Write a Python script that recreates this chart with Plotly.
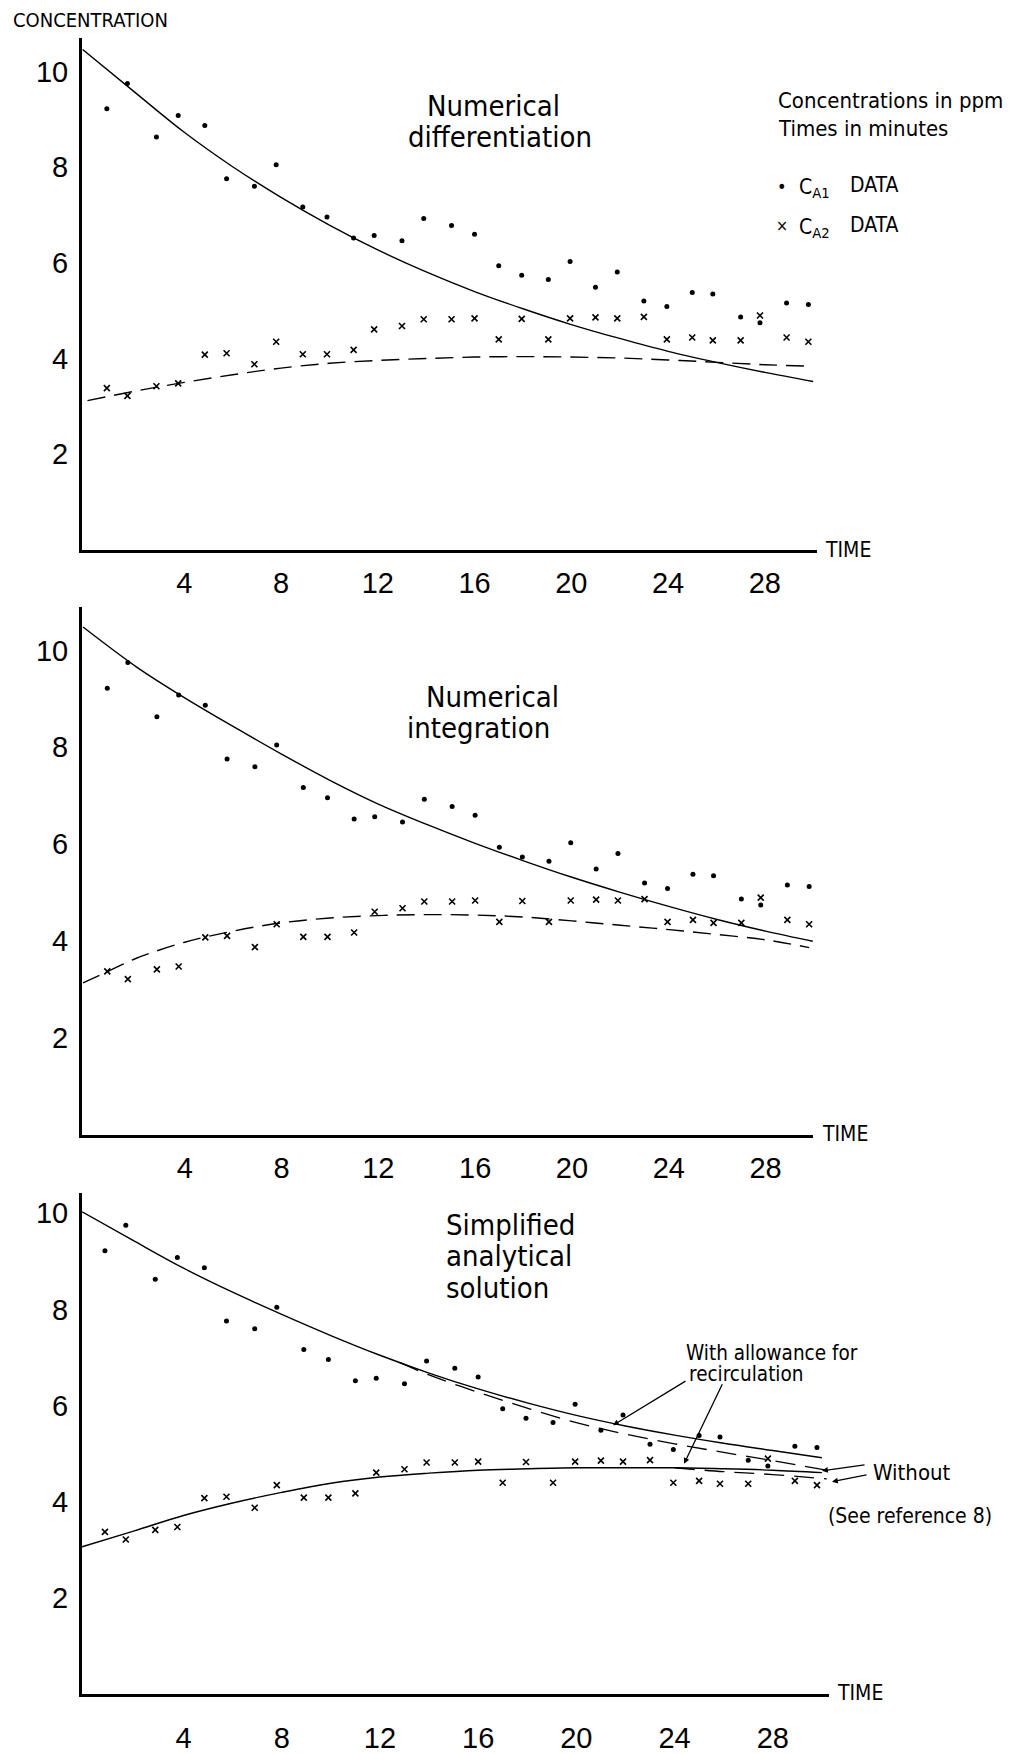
import plotly.graph_objects as go

W, H = 1018, 1754

# ---------------- data ----------------
time_min = [0.8, 1.65, 2.85, 3.75, 4.85, 5.75, 6.9, 7.8, 8.9, 9.9, 11.0, 11.85, 13.0, 13.9, 15.05,
            16.0, 17.0, 17.95, 19.05, 19.95, 21.0, 21.9, 23.0, 23.95, 25.0, 25.85, 27.0, 27.8, 28.9, 29.8]
c_a1 = [9.22, 9.75, 8.63, 9.08, 8.87, 7.76, 7.60, 8.05, 7.17, 6.96, 6.52, 6.57, 6.46, 6.93, 6.78,
        6.60, 5.94, 5.74, 5.65, 6.03, 5.49, 5.81, 5.20, 5.09, 5.38, 5.35, 4.87, 4.75, 5.16, 5.13]
c_a2 = [3.38, 3.22, 3.42, 3.48, 4.08, 4.11, 3.88, 4.35, 4.09, 4.09, 4.18, 4.61, 4.68, 4.82, 4.82,
        4.84, 4.40, 4.83, 4.40, 4.84, 4.86, 4.84, 4.87, 4.40, 4.44, 4.38, 4.38, 4.90, 4.44, 4.35]

# Panel 1: numerical differentiation fits
p1_a1_t = [-0.2, 2, 4, 6, 8, 10, 12, 14, 16, 18, 20, 22, 24, 26, 28, 30]
p1_a1_fit = [10.46, 9.55, 8.73, 8.01, 7.37, 6.79, 6.27, 5.81, 5.40, 5.04, 4.71, 4.42, 4.15, 3.92, 3.71, 3.52]
p1_a2_t = [0, 2, 4, 6, 8, 10, 12, 14, 16, 18, 20, 22, 24, 26, 28, 29.8]
p1_a2_fit = [3.12, 3.32, 3.50, 3.66, 3.80, 3.90, 3.96, 4.00, 4.03, 4.04, 4.03, 4.01, 3.97, 3.92, 3.87, 3.84]

# Panel 2: numerical integration fits
p2_a1_t = [-0.2, 2, 4, 6, 8, 10, 12, 14, 16, 18, 20, 22, 24, 26, 28, 29.95]
p2_a1_fit = [10.48, 9.66, 9.02, 8.43, 7.86, 7.32, 6.83, 6.41, 6.02, 5.66, 5.32, 5.01, 4.72, 4.45, 4.21, 4.00]
p2_a2_t = [-0.2, 1, 2, 4, 6, 8, 10, 12, 14, 16, 18, 20, 22, 24, 26, 28, 29.8]
p2_a2_fit = [3.14, 3.42, 3.65, 3.98, 4.21, 4.38, 4.48, 4.53, 4.55, 4.54, 4.50, 4.42, 4.33, 4.24, 4.14, 4.03, 3.87]

# Panel 3: simplified analytical solution
p3_t = [-0.13, 2, 4, 6, 8, 10, 12, 14, 16, 18, 20, 22, 24, 26, 28, 30]
p3_a1_with = [10.03, 9.42, 8.86, 8.36, 7.90, 7.46, 7.05, 6.68, 6.35, 6.06, 5.80, 5.58, 5.39, 5.22, 5.07, 4.92]
p3_a2_with = [3.07, 3.40, 3.72, 3.98, 4.20, 4.39, 4.52, 4.60, 4.66, 4.69, 4.71, 4.71, 4.71, 4.69, 4.66, 4.61]
p3_a1_wo_t = [12.8, 14, 16, 18, 20, 22, 24, 26, 28, 30.2]
p3_a1_without = [6.90, 6.64, 6.28, 5.95, 5.65, 5.41, 5.21, 5.03, 4.86, 4.66]
p3_a2_wo_t = [24, 26, 28, 30.2]
p3_a2_without = [4.71, 4.63, 4.57, 4.48]

x_ticks = [4, 8, 12, 16, 20, 24, 28]
y_ticks = [2, 4, 6, 8, 10]

# ---------------- layout helpers ----------------
def fx(px):
    return px / W

def fy(py):
    return 1 - py / H

NUM = "Liberation Sans, Arial, sans-serif"
COND = "DejaVu Sans Condensed, DejaVu Sans, sans-serif"
BLACK = "black"

fig = go.Figure()

dot_marker = dict(symbol="circle", size=5, color=BLACK)
x_marker = dict(symbol="x-thin", size=6, color=BLACK, line=dict(width=1.6, color=BLACK))
solid = dict(color=BLACK, width=1.4, shape="spline")
dashed = dict(color=BLACK, width=1.4, shape="spline", dash="18px,9px")
dashed3 = dict(color=BLACK, width=1.3, shape="spline", dash="20px,10px")

panels = [
    ("x", "y", [(p1_a1_t, p1_a1_fit, solid), (p1_a2_t, p1_a2_fit, dashed)]),
    ("x2", "y2", [(p2_a1_t, p2_a1_fit, solid), (p2_a2_t, p2_a2_fit, dashed)]),
    ("x3", "y3", [(p3_t, p3_a1_with, solid), (p3_t, p3_a2_with, solid),
                  (p3_a1_wo_t, p3_a1_without, dashed3), (p3_a2_wo_t, p3_a2_without, dashed3)]),
]
for xa, ya, curves in panels:
    for tt, vv, st in curves:
        fig.add_trace(go.Scatter(x=tt, y=vv, mode="lines", line=st, xaxis=xa, yaxis=ya,
                                 showlegend=False, hoverinfo="skip"))
    fig.add_trace(go.Scatter(x=time_min, y=c_a1, mode="markers", marker=dot_marker,
                             xaxis=xa, yaxis=ya, showlegend=False))
    fig.add_trace(go.Scatter(x=time_min, y=c_a2, mode="markers", marker=x_marker,
                             xaxis=xa, yaxis=ya, showlegend=False))

# axes geometry (pixels): x-domain left/right, y-axis bottom/top, ranges
geo = [
    (82, 817, 555.5, 38, [-0.227, 30.157], [0, 10.71]),
    (82, 813, 1147, 613, [-0.244, 29.96], [0, 10.9]),
    (82, 829, 1712, 1205, [-0.134, 30.29], [0, 10.43]),
]

def xaxis_def(xl, xr, rng, anchor, standoff):
    return dict(domain=[fx(xl), fx(xr)], range=rng, anchor=anchor, showline=True, linewidth=3,
                linecolor=BLACK, showgrid=False, zeroline=False, ticks="", tickvals=x_ticks,
                tickfont=dict(family=NUM, size=29, color=BLACK), ticklabelstandoff=standoff)

def yaxis_def(yb, yt, rng, anchor):
    return dict(domain=[fy(yb), fy(yt)], range=rng, anchor=anchor, showline=True, linewidth=3,
                linecolor=BLACK, showgrid=False, zeroline=False, ticks="", tickvals=y_ticks,
                tickfont=dict(family=NUM, size=29, color=BLACK), ticklabelstandoff=5)

layout_axes = {}
names = [("xaxis", "yaxis", "x", "y"), ("xaxis2", "yaxis2", "x2", "y2"), ("xaxis3", "yaxis3", "x3", "y3")]
standoffs = [5, 5, 16]
for (xn, yn, xid, yid), (xl, xr, yb, yt, xr_, yr_), so in zip(names, geo, standoffs):
    layout_axes[xn] = xaxis_def(xl, xr, xr_, yid, so)
    layout_axes[yn] = yaxis_def(yb, yt, yr_, xid)

annotations = []

def text(px, py, s, size, family=COND, xanchor="left", yanchor="middle"):
    annotations.append(dict(x=fx(px), y=fy(py), xref="paper", yref="paper", text=s,
                            showarrow=False, xanchor=xanchor, yanchor=yanchor,
                            font=dict(family=family, size=size, color=BLACK)))

def arrow(hx, hy, tx, ty):
    annotations.append(dict(x=fx(hx), y=fy(hy), xref="paper", yref="paper", text="",
                            showarrow=True, ax=tx - hx, ay=ty - hy, axref="pixel", ayref="pixel",
                            arrowhead=2, arrowsize=0.9, arrowwidth=1.3, arrowcolor=BLACK))

# axis titles
text(11, 20, "CONCENTRATION", 20)
text(823, 556, "TIME", 21)
text(820, 1146, "TIME", 21)
text(835, 1711, "TIME", 21)

# panel titles
text(493, 107, "Numerical", 29, xanchor="center")
text(500, 138, "differentiation", 29, xanchor="center")
text(492, 704, "Numerical", 29, xanchor="center")
text(478, 736, "integration", 29, xanchor="center")
text(444, 1238, "Simplified", 29)
text(444, 1269, "analytical", 29)
text(444, 1301, "solution", 29)

# key
text(776, 102, "Concentrations in ppm", 22)
text(776, 130, "Times in minutes", 22)
text(782, 188, "•", 18, xanchor="center")
text(797, 190, "C<sub>A1</sub>", 21)
text(848, 187, "DATA", 21)
text(782, 228, "×", 16, xanchor="center")
text(797, 230, "C<sub>A2</sub>", 21)
text(848, 227, "DATA", 21)

# panel 3 notes
text(684, 1367, "With allowance for", 20.5)
text(687, 1388, "recirculation", 20.5)
text(871, 1488, "Without", 22)
text(826, 1532, "(See reference 8)", 21)
arrow(613, 1440, 687, 1395)
arrow(684, 1479, 723, 1398)
arrow(822, 1486, 866, 1480)
arrow(832, 1497, 868, 1490)

fig.update_layout(width=W, height=H, autosize=False, margin=dict(l=0, r=0, t=0, b=0, pad=0),
                  paper_bgcolor="white", plot_bgcolor="white", showlegend=False,
                  annotations=annotations, **layout_axes)

fig.write_html("out.html", config={"displayModeBar": False},
               post_script="document.body.style.margin='0';document.body.style.overflow='hidden';")
